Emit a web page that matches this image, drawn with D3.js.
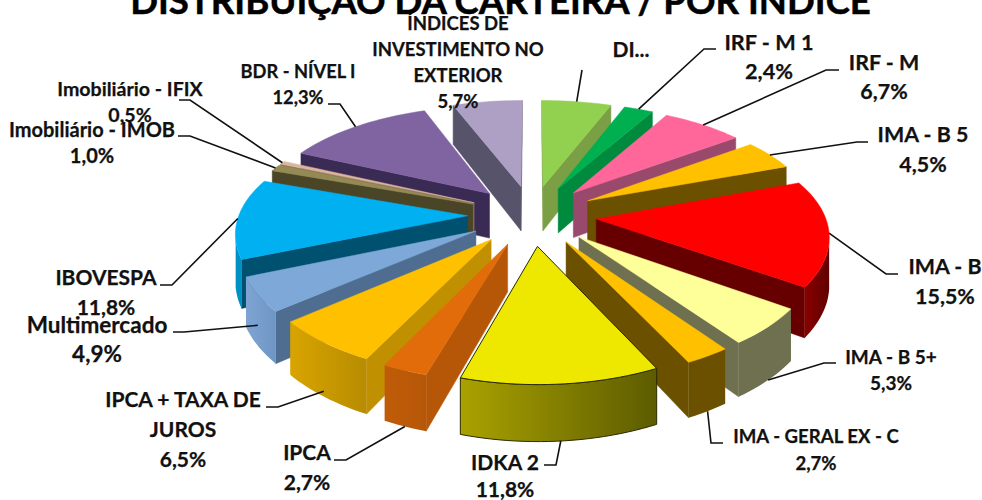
<!DOCTYPE html>
<html>
<head>
<meta charset="utf-8">
<script src="https://cdn.jsdelivr.net/npm/d3@7"></script>
<style>
  html, body { margin: 0; padding: 0; background: #fff; overflow: hidden; }
  text { font-family: Lato, "Open Sans", sans-serif; font-weight: bold; fill: #111; stroke: #111; stroke-width: 0.25px; }
</style>
</head>
<body>
<svg id="chart" width="982" height="500"></svg>
<script>
// Données
const categories = ["DI", "IRF - M 1", "IRF - M", "IMA - B 5", "IMA - B", "IMA - B 5+", "IMA - GERAL EX - C", "IDKA 2", "IPCA", "IPCA + TAXA DE JUROS", "Multimercado", "IBOVESPA", "Imobiliário - IMOB", "Imobiliário - IFIX", "BDR - NÍVEL I", "ÍNDICES DE INVESTIMENTO NO EXTERIOR"];
const values = [5.7, 2.4, 6.7, 4.5, 15.5, 5.3, 2.7, 11.8, 2.7, 6.5, 4.9, 11.8, 1.0, 0.5, 12.3, 5.7];

// Couleurs : dessus, flancs, paroi extérieure (gauche, droite)
const topColors = ["#92D050", "#00B050", "#FF6699", "#FFC000", "#FF0000", "#FFFF99", "#FFC000", "#EEE800", "#E36C0A", "#FFC000", "#7EA8D8", "#00B0F0", "#948A54", "#DDB59A", "#8064A2", "#ADA0C4"];
const sideColors = ["#7A9F45", "#008A3E", "#99496B", "#6B5000", "#660000", "#6F7050", "#6B5000", "#8A8400", "#B65708", "#C09000", "#4F6D90", "#005070", "#4A4526", "#8A7260", "#3A2B55", "#57536A"];
const wallLeft = ["#7A9F45", "#008A3E", "#99496B", "#6B5000", "#8A0000", "#6F7050", "#6B5000", "#AAA200", "#C05C08", "#D8A400", "#7EA4D2", "#0090C4", "#4A4526", "#8A7260", "#3A2B55", "#57536A"];
const wallRight = ["#7A9F45", "#008A3E", "#99496B", "#6B5000", "#600000", "#6F7050", "#6B5000", "#5C5C00", "#B65708", "#B88C00", "#6E96C5", "#0090C4", "#4A4526", "#8A7260", "#3A2B55", "#57536A"];
const outlined = ["IDKA 2"];

// Etiquettes : centre x, lignes [texte, y], taille, et coude du trait de rappel
const labelLines = [
  { x: 631, size: 21, lines: [["DI...", 57]], leader: [[582, 70]], drop: 0 },
  { x: 769, size: 21.7, lines: [["IRF - M 1", 50], ["2,4%", 79]], leader: [[716, 49], [704, 49]], drop: 0 },
  { x: 884, size: 21.4, lines: [["IRF - M", 70], ["6,7%", 99]], leader: [[839, 70], [826, 70]], drop: 0 },
  { x: 923, size: 21.4, lines: [["IMA - B 5", 142], ["4,5%", 172]], leader: [[868, 142], [857, 142]], drop: 0 },
  { x: 945, size: 21.4, lines: [["IMA - B", 274], ["15,5%", 304]], leader: [[898, 274], [886, 274]], drop: 0 },
  { x: 891, size: 19, lines: [["IMA - B 5+", 364], ["5,3%", 390]], leader: [[836, 363], [824, 363]], drop: 1 },
  { x: 816, size: 18.6, lines: [["IMA - GERAL EX - C", 443], ["2,7%", 470]], leader: [[723, 443], [711, 443]], drop: 1 },
  { x: 505, size: 21, lines: [["IDKA 2", 470], ["11,8%", 497]], leader: [[544, 465], [556, 465]], drop: 1 },
  { x: 307, size: 21, lines: [["IPCA", 460], ["2,7%", 490]], leader: [[334, 460], [346, 460]], drop: 1 },
  { x: 183, size: 21, lines: [["IPCA + TAXA DE", 407], ["JUROS", 437], ["6,5%", 467]], leader: [[266, 407], [278, 407]], drop: 0.9 },
  { x: 97, size: 22.5, lines: [["Multimercado", 333], ["4,9%", 362]], leader: [[173, 332], [184, 332]], drop: 0.6 },
  { x: 106, size: 21, lines: [["IBOVESPA", 285], ["11,8%", 315]], leader: [[160, 285], [172, 285]], drop: 0 },
  { x: 92, size: 20, lines: [["Imobiliário - IMOB", 137], ["1,0%", 163]], leader: [[178, 136], [190, 136]], drop: 0 },
  { x: 130, size: 19.6, lines: [["Imobiliário - IFIX", 96], ["0,5%", 122]], leader: [[179, 100], [190, 100]], drop: 0 },
  { x: 298, size: 18.3, lines: [["BDR - NÍVEL I", 78], ["12,3%", 104]], leader: [[328, 104], [340, 104]], drop: 0 },
  { x: 458, size: 18.5, lines: [["ÍNDICES DE", 30], ["INVESTIMENTO NO", 56], ["EXTERIOR", 82], ["5,7%", 108]], leader: [], drop: 0 }
];

const svg = d3.select("#chart");
const defs = svg.append("defs");

// Projection perspective du camembert 3D
const cx = 532, cy = 215, scaleX = 293, scaleY = 137, persp = 0.193, perspX = 0.17, depth = 46;
const radius = 0.78, explode = 0.22;

function project(p, z) {
  const w = 1 - p[1] * persp;
  return [cx + p[0] * scaleX / (1 - p[1] * perspX), cy + (p[1] * scaleY + z * depth) / w];
}

const slices = d3.pie().sort(null).value(d => d)(values).map((s, i) => {
  const mid = (s.startAngle + s.endAngle) / 2;
  return {
    i,
    a0: s.startAngle,
    a1: s.endAngle,
    mid,
    apex: [explode * Math.sin(mid), -explode * Math.cos(mid)]
  };
});

function rimPoint(s, a) {
  return [s.apex[0] + radius * Math.sin(a), s.apex[1] - radius * Math.cos(a)];
}

function arcAngles(s) {
  const n = Math.max(2, Math.ceil((s.a1 - s.a0) / 0.03));
  return d3.range(n + 1).map(k => s.a0 + (s.a1 - s.a0) * k / n);
}

const line = d3.line();
const camY = 1 / persp;

function quadPath(a, b) {
  return line([project(a, 0), project(b, 0), project(b, 1), project(a, 1)]) + "Z";
}

// Peindre de l'arrière vers l'avant
const order = slices.slice().sort((a, b) => d3.descending(Math.cos(a.mid), Math.cos(b.mid)));
const pie = svg.append("g");

order.forEach(s => {
  const g = pie.append("g");
  const hasLine = outlined.includes(categories[s.i]);
  const stroke = hasLine ? "#2a2a00" : "none";

  // Flancs radiaux visibles
  [[s.a0, -1], [s.a1, 1]].forEach(([a, sign]) => {
    const nx = sign * Math.cos(a), ny = sign * Math.sin(a);
    if (nx * (0 - s.apex[0]) + ny * (camY - s.apex[1]) > 0) {
      g.append("path")
        .attr("d", quadPath(s.apex, rimPoint(s, a)))
        .attr("fill", sideColors[s.i])
        .attr("stroke", sideColors[s.i])
        .attr("stroke-width", 0.5);
    }
  });

  // Paroi extérieure
  const visible = arcAngles(s).filter(a => {
    const p = rimPoint(s, a);
    return Math.sin(a) * (0 - p[0]) - Math.cos(a) * (camY - p[1]) > 0;
  });
  if (visible.length > 1) {
    const gradId = "wall" + s.i;
    const grad = defs.append("linearGradient").attr("id", gradId);
    grad.append("stop").attr("offset", "0%").attr("stop-color", wallLeft[s.i]);
    grad.append("stop").attr("offset", "100%").attr("stop-color", wallRight[s.i]);
    const up = visible.map(a => project(rimPoint(s, a), 0));
    const down = visible.map(a => project(rimPoint(s, a), 1)).reverse();
    g.append("path")
      .attr("d", line(up.concat(down)) + "Z")
      .attr("fill", `url(#${gradId})`)
      .attr("stroke", hasLine ? stroke : "none")
      .attr("stroke-width", 1);
  }

  // Dessus
  const top = [s.apex].concat(arcAngles(s).map(a => rimPoint(s, a))).map(p => project(p, 0));
  g.append("path")
    .attr("d", line(top) + "Z")
    .attr("fill", topColors[s.i])
    .attr("stroke", hasLine ? stroke : topColors[s.i])
    .attr("stroke-width", hasLine ? 1 : 0.5);
});

// Traits de rappel
labelLines.forEach((d, i) => {
  if (!d.leader.length) return;
  const s = slices[i];
  const end = project(rimPoint(s, s.mid), d.drop);
  svg.append("path")
    .attr("d", line(d.leader.concat([end])))
    .attr("fill", "none")
    .attr("stroke", "#111")
    .attr("stroke-width", 1.6);
});

// Etiquettes
labelLines.forEach(d => {
  d.lines.forEach(([txt, y]) => {
    svg.append("text")
      .attr("x", d.x)
      .attr("y", y)
      .attr("text-anchor", "middle")
      .style("font-size", d.size + "px")
      .text(txt);
  });
});

// Titre
svg.append("text")
  .attr("x", 500.5)
  .attr("y", 14)
  .attr("text-anchor", "middle")
  .style("font-size", "36.6px")
  .style("fill", "#000")
  .style("stroke", "#000")
  .style("stroke-width", "0.5px")
  .text("DISTRIBUIÇÃO DA CARTEIRA / POR ÍNDICE");
</script>
</body>
</html>
